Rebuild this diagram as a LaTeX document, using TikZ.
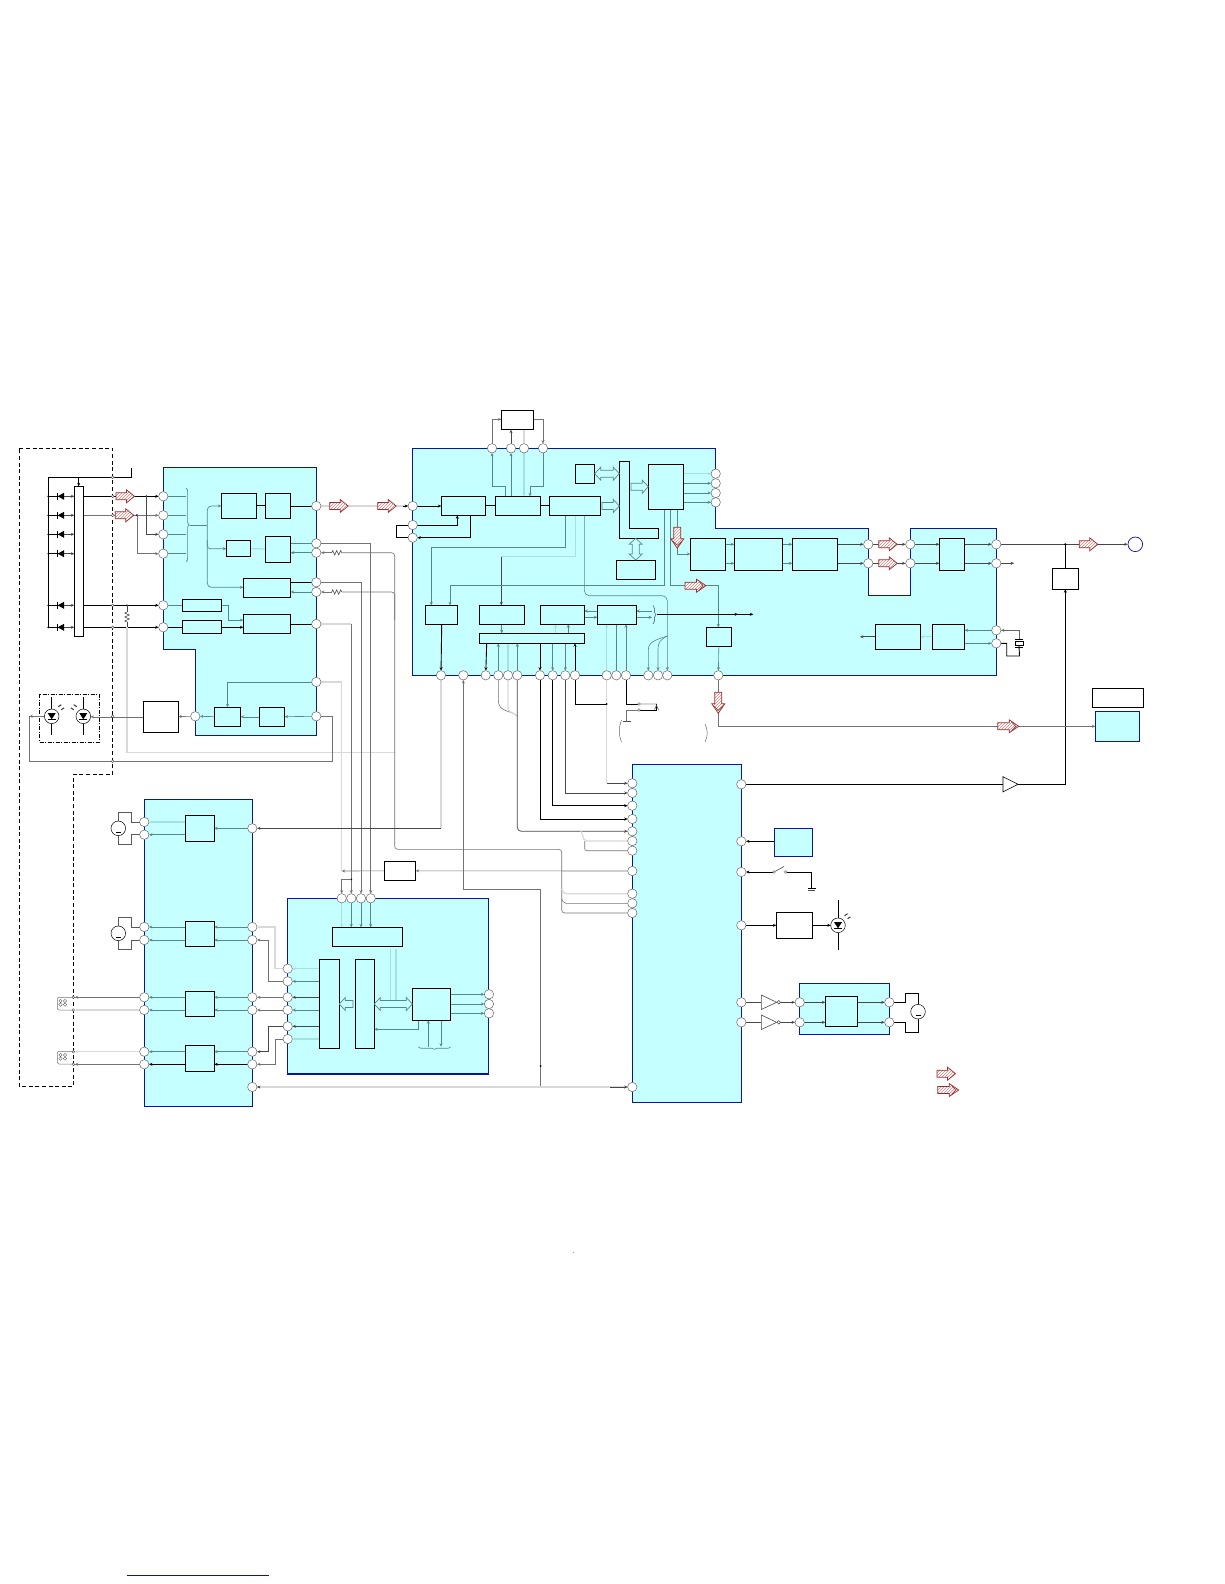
\documentclass[tikz,border=0pt]{standalone}
\usetikzlibrary{arrows.meta,patterns,decorations.pathreplacing,calc}
\pgfdeclarelayer{blocks}\pgfdeclarelayer{wires}\pgfsetlayers{blocks,wires,main}
\definecolor{panel}{HTML}{C6FFFF}
\definecolor{panelblue}{HTML}{0A14A8}
\definecolor{wteal}{HTML}{558889}
\definecolor{wlight}{HTML}{A4E2E2}
\definecolor{redline}{HTML}{9A2C2C}
\tikzset{
  blockp/.style={fill=panel,draw=panelblue,line width=1.2pt},
  boxc/.style={draw=black,fill=panel,line width=.8pt,inner sep=0pt,outer sep=0pt},
  boxw/.style={draw=black,fill=white,line width=.8pt,inner sep=0pt,outer sep=0pt},
  boxb/.style={draw=panelblue,fill=panel,line width=1.2pt,inner sep=0pt,outer sep=0pt},
  pinc/.style={circle,draw=black!60,fill=white,line width=.5pt,minimum size=9.4pt,inner sep=0pt,outer sep=0pt},
  term/.style={circle,draw=black!70,fill=white,line width=.4pt,minimum size=2.8pt,inner sep=0pt,outer sep=0pt},
  sym/.style={circle,draw=black,fill=white,line width=.5pt,minimum size=14.6pt,inner sep=0pt,outer sep=0pt},
  wt/.style={draw=black!55,line width=.6pt},
  wk/.style={draw=black!72,line width=.7pt},
  wb/.style={draw=black,line width=.9pt},
  wl/.style={draw=black!15,line width=1.3pt},
  wa/.style={draw=wteal,line width=.6pt},
  wc/.style={draw=wlight,line width=1.2pt},
  dash1/.style={draw=black,line width=.9pt,dash pattern=on 4pt off 2.6pt},
  dash2/.style={draw=black,line width=.7pt,dash pattern=on 4pt off 1.5pt on 1pt off 1.5pt},
  hol/.style={fill=panel,draw=wteal,line width=.7pt},
  >={Stealth[length=3.4pt,width=3pt]}
}
\newcommand\bx[6][boxc]{\pgfmathsetmacro\bxww{#5-#3}\pgfmathsetmacro\bxhh{#6-#4}\pgfmathsetmacro\bxcx{(#5+#3)/2}\pgfmathsetmacro\bxcy{(#6+#4)/2}\node[#1,minimum width=\bxww pt,minimum height=\bxhh pt] (#2) at (\bxcx,\bxcy) {};}
\newcommand\jdot[2]{\fill[black] (#1,#2) circle (1pt);}
\newcommand\diodeh[1]{\fill[black] (64,#1-3.5) -- (64,#1+3.5) -- (57.7,#1) -- cycle; \draw[black,line width=.9pt] (57.5,#1-3.5) -- (57.5,#1+3.5);}
\newcommand\resh[2]{\draw[black!70,line width=.6pt] (#1-5,#2) -- (#1-4,#2-2.2) -- (#1-2,#2+2.2) -- (#1,#2-2.2) -- (#1+2,#2+2.2) -- (#1+4,#2-2.2) -- (#1+5,#2);}
\newcommand\redA[3]{\begin{scope}[shift={(#1,#2)},rotate=#3]
 \path[fill=white] (-9,-3.5)--(1.5,-3.5)--(1.5,-6.5)--(9.5,0)--(1.5,6.5)--(1.5,3.5)--(-9,3.5)--cycle;
 \path[pattern=north east lines,pattern color=redline!55] (-9,-3.5)--(1.5,-3.5)--(1.5,-6.5)--(9.5,0)--(1.5,6.5)--(1.5,3.5)--(-9,3.5)--cycle;
 \draw[redline,line width=.7pt] (-9,-3.5)--(1.5,-3.5)--(1.5,-6.5)--(9.5,0)--(1.5,6.5)--(1.5,3.5)--(-9,3.5)--cycle;
 \end{scope}}
\newcommand\redB[3]{\begin{scope}[shift={(#1,#2)},rotate=#3]
 \path[fill=white] (-10,-3.5)--(1.5,-3.5)--(1.5,-6.5)--(11,0)--(1.5,6.5)--(1.5,3.5)--(-10,3.5)--cycle;
 \path[pattern=north east lines,pattern color=redline!55] (-10,-3.5)--(1.5,-3.5)--(1.5,-6.5)--(11,0)--(1.5,6.5)--(1.5,3.5)--(-10,3.5)--cycle;
 \draw[redline,line width=.7pt] (-10,-3.5)--(1.5,-3.5)--(1.5,-6.5)--(11,0)--(1.5,6.5)--(1.5,3.5)--(-10,3.5)--cycle;
 \draw[redline,line width=.6pt] (4,-4.4)--(8,0)--(4,4.4);
 \end{scope}}
\newcommand\holA[4]{\begin{scope}[shift={(#1,#2)},rotate=#3]
 \draw[hol] (0,-3.5)--(#4-6,-3.5)--(#4-6,-6.5)--(#4,0)--(#4-6,6.5)--(#4-6,3.5)--(0,3.5)--cycle;\end{scope}}
\newcommand\holB[4]{\begin{scope}[shift={(#1,#2)},rotate=#3]
 \draw[hol] (6,-3.5)--(#4-6,-3.5)--(#4-6,-6.5)--(#4,0)--(#4-6,6.5)--(#4-6,3.5)--(6,3.5)--(6,6.5)--(0,0)--(6,-6.5)--cycle;\end{scope}}
\newcommand\motorbar[2]{\draw[black,line width=.8pt] (#1-2.5,#2+4) -- (#1+2.5,#2+4);}
\newcommand\ledbody[4]{\fill[black] (#1-4,#2-3.2)--(#1+4,#2-3.2)--(#1,#2+3)--cycle;
 \draw[black,line width=.8pt] (#1-4,#2+3.2)--(#1+4,#2+3.2);
 \draw[black,line width=.8pt] (#1,#2-#3)--(#1,#2-7.3) (#1,#2+7.3)--(#1,#2+#3);
 \draw[black!80,line width=1pt] (#1+#4*6.6,#2-9.6)--(#1+#4*9.6,#2-11.6) (#1+#4*9.6,#2-6.6)--(#1+#4*12.4,#2-8.4);}
\newcommand\coilsym[1]{\draw[black!55,line width=.5pt,rounded corners=2] (73.3,#1-6.7)--(57.3,#1-6.7)--(57.3,#1+6)--(73.3,#1+6);
 \draw[black!65,line width=.35pt] (60.5,#1-3) circle (1.7pt) (60.5,#1+.6) circle (1.7pt) (65,#1-3) circle (1.7pt) (65,#1+.6) circle (1.7pt);}
\begin{document}
\begin{tikzpicture}[x=1pt,y=-1pt]
\useasboundingbox (0,0) rectangle (1224,1584);
% ---- blocks
\begin{pgfonlayer}{blocks}
\draw[blockp] (163.3,467.3)--(316.3,467.3)--(316.3,735.3)--(195.3,735.3)--(195.3,649.3)--(163.3,649.3)--cycle;
\draw[blockp] (412.7,448.3)--(715.7,448.3)--(715.7,528.3)--(868.3,528.3)--(868.3,595.3)--(910.3,595.3)--(910.3,528.3)--(996.3,528.3)--(996.3,675.3)--(412.7,675.3)--cycle;
\draw[blockp] (144.3,799.3) rectangle (252.3,1106.3);
\draw[blockp] (287.7,898.3) rectangle (488.7,1074);
\draw[blockp] (632.3,764.3) rectangle (741.3,1102.3);
\draw[blockp] (799.5,983.3) rectangle (889.3,1034.3);
\end{pgfonlayer}
% ---- boxes, block A
\bx{ab}{221.3}{493.3}{256.7}{518.3}\bx{ac}{265.3}{493.3}{290.7}{518.3}
\bx{ad}{226.3}{540.3}{250.7}{556.3}\bx{ae}{265.3}{536.3}{290.7}{562.3}
\bx{af}{243.3}{578.3}{290.7}{597.7}\bx{ag}{243.3}{614.3}{290.7}{633.3}
\bx{ah}{182.3}{599.3}{221.7}{611.3}\bx{ai}{182.3}{620.3}{221.7}{633.3}
\bx{aj}{214.3}{707.3}{240.7}{726.3}\bx{ak}{259.3}{707.3}{284.7}{726.3}
\bx[boxw]{ax}{143.3}{701.3}{178.3}{732.3}
\bx[boxw]{bar}{74.3}{486.3}{83.3}{636.3}
% block C
\bx[boxw]{tb}{501.3}{410.3}{533.3}{429.7}
\bx{ca}{441.3}{496.3}{485.3}{515.3}\bx{cb}{495.3}{496.3}{540.3}{515.3}\bx{cc}{549.3}{496.3}{600.7}{515.3}
\bx{cd}{575.3}{464.3}{594.7}{483.3}\bx{cp}{648.3}{464.3}{683.7}{509.3}\bx{cq}{616.3}{560.3}{655.7}{579.3}
\bx{ce}{690.3}{538.3}{725.7}{570.7}\bx{cf}{734.3}{538.3}{782.7}{570.3}\bx{cg}{792.3}{538.3}{837.7}{570.3}
\bx{ch}{939.3}{538.3}{964.7}{570.3}\bx{cr}{706.3}{627.3}{731.7}{646.3}
\bx{cs}{875.3}{624.3}{920.3}{649.3}\bx{ct}{932.3}{624.3}{964.7}{649.3}
\bx{l1}{425.3}{605.3}{457.3}{624.3}\bx{l2}{479.3}{605.3}{524.3}{624.3}\bx{l3}{540.3}{605.3}{584.3}{624.3}\bx{l4}{597.3}{605.3}{636.3}{624.3}
\bx{lbus}{479.3}{633.3}{584.3}{643.3}
\draw[boxc] (619.3,461.3)--(629.7,461.3)--(629.7,528.3)--(658.7,528.3)--(658.7,538.3)--(619.3,538.3)--cycle;
% lower left block
\bx{m1}{185.3}{815.3}{214.3}{841.3}\bx{m2}{185.3}{921.3}{214.3}{946.3}\bx{m3}{185.3}{991.3}{214.3}{1016.3}\bx{m4}{185.3}{1045.7}{214.3}{1071.3}
% D block
\bx{da}{332.3}{927.3}{402.3}{946.3}\bx{db}{319.3}{959.3}{339.3}{1048.3}\bx{dc}{355.3}{959.3}{374.3}{1048.3}\bx{dd}{412.3}{988.3}{450.7}{1020.3}
\bx[boxw]{ext}{384.3}{861.3}{415.7}{880.3}
\bx[boxw]{kbox}{1052.3}{568.3}{1078.3}{589.3}
\bx[boxw]{wbox}{1092.3}{688.3}{1143.3}{707.3}
\bx[boxb]{bbox}{1095.3}{711.3}{1139.3}{741.3}
\bx[boxb]{sbox}{774.3}{828.3}{812.7}{856.3}
\bx[boxw]{lbox}{776.3}{912.3}{812.7}{938.3}
\bx{fbox}{825.3}{996.3}{857.7}{1026.3}
% ---- pins
\foreach \n/\x/\y in {ai1/163.3/496.3,ai2/163.3/515.3,ai3/163.3/534.3,ai4/163.3/553.7,ai5/163.3/605.3,ai6/163.3/627.3,
 ao1/316.3/506,ao2/316.3/543.3,ao3/316.3/552.7,ao4/316.3/582.3,ao5/316.3/592,ao6/316.3/624,ao7/316.3/682,ao8/316.3/716.3,ap/195.3/716.3,
 ct1/492/448.3,ct2/511/448.3,ct3/524/448.3,ct4/543/448.3,
 cl1/412.7/506,cl2/412.7/525,cl3/412.7/537.7,
 cr1/715.7/473.7,cr2/715.7/483.3,cr3/715.7/493,cr4/715.7/502.3,
 cm1/868.3/544.3,cm2/868.3/563.3,cn1/910.3/544.3,cn2/910.3/563.3,cq1/996.3/544.3,cq2/996.3/563.3,cq3/996.3/630.3,cq4/996.3/643.3,
 p1/441/675.3,p2/463.3/675.3,p3/485.7/675.3,p4/498.3/675.3,p5/508/675.3,p6/517.3/675.3,p7/540/675.3,p8/552.7/675.3,p9/565.3/675.3,p10/575/675.3,
 p11/606.7/675.3,p12/616.3/675.3,p13/626/675.3,p14/648.3/675.3,p15/658/675.3,p16/667.3/675.3,p17/718.3/675.3,
 bl1/144.3/822,bl2/144.3/834.7,bl3/144.3/927,bl4/144.3/940,bl5/144.3/997.3,bl6/144.3/1010,bl7/144.3/1051.7,bl8/144.3/1064.3,
 br1/252.3/828.3,br3/252.3/927,br4/252.3/940,br5/252.3/997.3,br6/252.3/1010,br7/252.3/1051.7,br8/252.3/1064.3,br9/252.3/1087,
 dt1/341.7/898.3,dt2/351.3/898.3,dt3/361/898.3,dt4/370.7/898.3,
 dl1/287.7/968.7,dl2/287.7/981.3,dl3/287.7/997.3,dl4/287.7/1010,dl5/287.7/1026.3,dl6/287.7/1039,
 dr1/489/994.3,dr2/489/1004,dr3/489/1013.3,
 e1/632.3/783.3,e2/632.3/793,e3/632.3/805.7,e4/632.3/819,e5/632.3/831.3,e6/632.3/841,e7/632.3/850.7,e8/632.3/871,e9/632.3/893.7,e10/632.3/903.3,e11/632.3/913,e12/632.3/1087,
 er1/741.3/784.3,er2/741.3/841.3,er3/741.3/872,er4/741.3/925.3,er5/741.3/1002.3,er6/741.3/1022.3,
 f1/799.7/1002.3,f2/799.7/1022.3,f3/889.3/1002.3,f4/889.3/1022.3}
 {\node[pinc] (\n) at (\x,\y) {};}
% terminals on the dashed line
\foreach \n/\x/\y in {t1/112.7/477.3,t2/112.7/496.3,t3/112.7/515.3,t4/112.7/605.3,t5/112.7/627.3,t6/112.7/716.3,t7/112.7/761.3,
 t8/73.3/997.3,t9/73.3/1010,t10/73.3/1051.7,t11/73.3/1064.3,sw1/639/704,sw2/639/710,swa/774/872,swb/785.7/872}
 {\node[term] (\n) at (\x,\y) {};}
% symbols
\node[sym] (led1) at (51.7,716.3) {};\node[sym] (led2) at (83.3,716.3) {};
\node[sym] (led3) at (838,925.3) {};
\node[sym] (mot1) at (118.3,828.3) {};\node[sym] (mot2) at (118.3,933.3) {};\node[sym] (mot3) at (918,1011.7) {};
\node[circle,draw=panelblue,fill=white,line width=.7pt,minimum size=14.6pt,inner sep=0pt] (outc) at (1135.3,544.3) {};
\ledbody{51.7}{716.3}{19}{1}\ledbody{83.3}{716.3}{19}{-1}\ledbody{838}{925.3}{25}{1}
\motorbar{118.3}{828.3}\motorbar{118.3}{933.3}\motorbar{918}{1011.7}
\foreach \y in {496.3,515.3,534.3,553.7,605.3,627.3}{\diodeh{\y}}
\coilsym{1004}\coilsym{1058}
% resistors
\node[fill=white,minimum width=10pt,minimum height=6pt,inner sep=0pt] (r1) at (336.7,552.7) {};\resh{336.7}{552.7}
\node[fill=white,minimum width=10pt,minimum height=6pt,inner sep=0pt] (r2) at (336.7,592) {};\resh{336.7}{592}
\node[fill=white,minimum width=6pt,minimum height=10pt,inner sep=0pt] (r3) at (127,617) {};
\draw[black!70,line width=.6pt] (127,612)--(124.8,613)--(129.2,615)--(124.8,617)--(129.2,619)--(124.8,621)--(127,622);
% inverters and buffer
\coordinate (i1a) at (761.3,1002.3);\coordinate (i1b) at (781,1002.3);\coordinate (i2a) at (761.3,1022.3);\coordinate (i2b) at (781,1022.3);
\draw[black!70,fill=white,line width=.6pt] (761.3,995)--(761.3,1009.5)--(776.7,1002.3)--cycle (778.8,1002.3) circle (1.8pt);
\draw[black!70,fill=white,line width=.6pt] (761.3,1015)--(761.3,1029.5)--(776.7,1022.3)--cycle (778.8,1022.3) circle (1.8pt);
\coordinate (bufa) at (1003,784.3);\coordinate (bufb) at (1018,784.3);
\draw[black,fill=white,line width=.6pt] (1003,776.7)--(1003,791.9)--(1018,784.3)--cycle;
% ---- red arrows
\redA{125}{496.3}{0}\redA{124.3}{515.3}{0}\redA{338.7}{506}{0}\redA{386.7}{506}{0}
\redA{887.7}{544.3}{0}\redA{887.7}{563.3}{0}\redA{1088.3}{544.3}{0}
\redB{677.3}{537.3}{-90}\redB{695}{585.7}{0}\redB{718.3}{702.3}{-90}\redB{1007.7}{726.3}{0}
\redA{946}{1073.7}{0}\redB{947.7}{1090}{0}
% ---- hollow arrows
\holB{594.7}{473.7}{0}{24.6}\holA{602}{506}{0}{17.3}\holA{631}{486.7}{0}{17.3}
\holB{635.7}{538.3}{-90}{21.7}\holA{353}{1004}{180}{13.7}\holB{374.3}{1004}{0}{38}
% ---- wires
\begin{pgfonlayer}{wires}
\draw[dash1] (19.3,448.3)--(112.7,448.3)--(112.7,774.3)--(73.3,774.3)--(73.3,1086.7)--(19.3,1086.7)--cycle;
\draw[dash2] (39.7,694.3) rectangle (99.3,742.3);
% left bus
\coordinate (vt) at (131.7,468.3);\coordinate (vb1) at (48.3,477.3);\coordinate (vb2) at (48.3,627.3);
\draw[wb] (vt) |- (vb1) -- (vb2);
\draw[wb,->] (78.7,477.3) -- (bar.north -| 78.7,0);
\foreach \y in {496.3,515.3,534.3,553.7,605.3,627.3}{\jdot{48.3}{\y}\draw[wb] (48.3,\y) -- (60,\y);\draw[wk,->] (60,\y) -- (74.3,\y);}
\draw[wb,->] (bar.east |- ai1) -- (ai1);\draw[wt,->] (bar.east |- ai2) -- (ai2);
\draw[wb,->] (bar.east |- ai5) -- (ai5);\draw[wb,->] (bar.east |- ai6) -- (ai6);
\coordinate (j1) at (146.3,496.3);\coordinate (j2) at (137,515.3);
\fill (j1) circle (1.1pt) (j2) circle (1.1pt);
\draw[wk,->] (j1) |- (ai3);\draw[wt,->] (j2) |- (ai4);
\jdot{127}{605.3}
\draw[wk] (127,605.3) -- (r3);\draw[wk] (r3) -- (127,627.3);
\coordinate (lb1) at (394.7,752.7);
\draw[wl] (127,627.3) |- (lb1);
% LEDs
\draw[wt,->] (led1) -- (29.3,716.3);
\draw[wt] (ao8) -- (332.3,716.3) |- (29.3,761.3) -- (29.3,716.3);
\draw[wt,->] (ax) -- (ax.west -| led2.east);
\draw[wt,->] (ap) -- (ax);\draw[wa,->] (aj) -- (ap);\draw[wa,->] (ak) -- (aj);\draw[wa,->] (ao8) -- (ak);
\draw[wa,line width=.9pt,->] (ao7) -| (aj);
% block A
\foreach \p in {ai1,ai2,ai3,ai4}{\draw[wa] (\p) -- (186,0 |- \p);}
\draw[wa,line width=.7pt,decorate,decoration={brace,amplitude=3.2pt}] (186,488) -- (186,561.7);
\draw[wa,line width=.7pt] (190,525) -- (207.3,525);
\draw[wa,line width=.7pt,rounded corners=4,->] (207.3,525) |- (ab.west |- 0,506);
\draw[wa,line width=.7pt,rounded corners=4,->] (207.3,525) |- (af.west |- 0,587.3);
\draw[wa,line width=.7pt,rounded corners=3,->] (207.3,540) |- (ad.west |- 0,548.7);
\draw[wb] (ab) -- (ac);\draw[wb] (ac.east |- ao1) -- (ao1);
\draw[wc] (ad) -- (ae);
\draw[wa] (ae.east |- ao2) -- (ao2);\draw[wa,->] (ao3) -- (ae.east |- ao3);
\draw[wb] (af.east |- ao4) -- (ao4);\draw[wa,->] (ao5) -- (af.east |- ao5);
\draw[wb] (ag.east |- ao6) -- (ao6);
\draw[wa] (ai5) -- (ah.west |- ai5);\draw[wb] (ai6) -- (ai.west |- ai6);
\draw[wa,->] (ah.east |- ai5) -- (228,605.3) |- (243.3,620);
\draw[wb,->] (ai.east |- ai6) -- (ag.west |- ai6);
% A to C and lower D
\draw[wl] (ao1) -- (cl1);
\draw[wb,->] (ao1 -| 403,0) -- (cl1);
\draw[wt,->] (r1) -- (ao3);\draw[wt,->] (r2) -- (ao5);
\draw[wt,rounded corners=3] (r1) -- (394.7,552.7) -- (394.7,849.3) -- (561.7,849.3) -- (561.7,913) -- (e11);
\draw[wt,rounded corners=3] (r2) -- (394.7,592) -- (394.7,620);
\draw[wl,rounded corners=2] (561.7,889) -- (564,893.7) -- (e9);
\draw[wt,rounded corners=2] (561.7,899) -- (564,903.3) -- (e10);
\draw[wt,->] (ao2) -| (dt4);
\draw[wt,->] (ao4) -| (dt3);
\draw[wl] (ao6) -- (351.3,624);\draw[wt,->] (351.3,624) -- (dt2);
\draw[wl] (ao7) -- (341.7,682) -- (341.7,871);
\draw[wt,->] (ext) -- (341.7,871);
\jdot{351.3}{879.3}
\draw[wt,->] (351.3,879.3) -- (341.7,879.3) -- (dt1);
\draw[wt,->] (e8) -- (ext);
% block C
\draw[wb,->] (cl1) -- (ca.west |- cl1);\draw[wb] (ca) -- (cb);\draw[wb] (cb) -- (cc);
\draw[wb,->] (cl2) -| (457.3,515.3);
\draw[wb,->] (470.7,515.3) |- (cl3);
\draw[wb] (cl2) -- (396.7,525) -- (396.7,537.7) -- (cl3);
\draw[wa,->] (505,496.3) -- (505,486.7) -| (ct1);
\draw[wa,->] (511,496.3) -- (ct2);\draw[wc,->] (ct3) -- (524,496.3);
\draw[wa,->] (ct4) |- (530,486.7) -- (530,496.3);
\draw[wt,->] (ct1) |- (tb.west |- 0,419.3);\draw[wk,->] (ct2) -- (511,429.7);\draw[wl] (ct3) -- (524,429.7);
\draw[wt,->] (tb.east |- 0,419.3) -| (ct4);
\draw[wa,->] (565.7,515.3) |- (431.3,547.3) -- (431.3,605.3);
\draw[wc] (575.3,515.3) |- (501.3,556.7);
\draw[wk,->] (501.3,556.7) -- (501.3,605.3);
\draw[wa,rounded corners=5,->] (584.3,515.3) |- (667.3,595.7) -- (p16);
\draw[wa,->] (664.3,509.3) |- (450,585.7) -- (450,605.3);
\draw[wa,->] (670.3,509.3) |- (718.3,585.7) -- (718.3,627.3);
\draw[wa,->] (677.3,509.3) |- (690.3,554);
\draw[wc,->] (cp.east |- cr1) -- (cr1);
\foreach \p in {cr2,cr3,cr4}{\draw[wa,->] (cp.east |- \p) -- (\p);}
\foreach \y in {544.3,563.3}{\draw[wa,->] (725.7,\y) -- (734.3,\y);\draw[wa,->] (782.7,\y) -- (792.3,\y);}
\draw[wk,->] (cg.east |- cm1) -- (cm1);\draw[wk,->] (cg.east |- cm2) -- (cm2);
\draw[wk,->] (cm1) -- (cn1);\draw[wk,->] (cm2) -- (cn2);
\draw[wk,->] (cn1) -- (ch.west |- cn1);\draw[wk,->] (cn2) -- (ch.west |- cn2);
\draw[wk,->] (ch.east |- cq1) -- (cq1);\draw[wk,->] (ch.east |- cq2) -- (cq2);
\coordinate (cq2e) at (1014,563.3);
\draw[wk,->] (cq2) -- (cq2e);
\draw[wk,->] (cq1) -- (outc);
\coordinate (jk) at (1065.3,544.3);\fill (jk) circle (1.2pt);
\draw[wb] (jk) -- (kbox);
\draw[wb,->] (bufb) -- (1065.3,784.3) -- (kbox);
\draw[wb] (er1) -- (bufa);
\draw[wa,->] (cr) -- (p17);
\draw[wt,->] (p17) |- (bbox);
% crystal
\draw[wa,->] (cq3) -- (ct.east |- cq3);\draw[wa,->] (ct.east |- cq4) -- (cq4);
\draw[wc,->] (ct) -- (cs);
\coordinate (csl) at (860,636.8);\draw[wk,->] (cs) -- (csl);
\coordinate (xt) at (1019,630.3);\coordinate (xb) at (1019,646);
\draw[black!60,line width=.6pt,->] (xt) -- (cq3);
\draw[black!60,line width=.6pt] (xt) -- (1019,639);
\draw[wb] (cq4) -- (1006.7,643.3) -- (1006.7,656) -- (1019.5,656) -- (xb);
\draw[black,line width=.8pt,fill=white] (1015,641) rectangle (1023,645.7);
\draw[black,line width=.6pt] (1015,639.6) -- (1023,639.6) (1015,646.8) -- (1023,646.8);
% lower C boxes
\draw[wb,->] (441.7,624.3) -- (p1);
\draw[wa,->] (501.7,624.3) -- (501.7,633.3);
\draw[wc,->] (555.7,633.3) -- (555.7,624.3);
\draw[wa,->] (568.3,633.3) -- (568.3,624.3);
\draw[wa,->] (597.3,611) -- (584.3,611);\draw[wa,->] (584.3,617.3) -- (597.3,617.3);
\draw[wa,->] (652,611) -- (636.3,611);\draw[wa,->] (636.3,617.3) -- (652,617.3);
\draw[wa,line width=.7pt,decorate,decoration={brace,amplitude=2.8pt}] (653,605.3) -- (653,624);
\coordinate (cout) at (753.3,614.3);
\draw[wb,->] (656.7,614.3) -- (cout);\draw[wb,->] (656.7,614.3) -- (738,614.3);
\draw[wb,->] (486.7,643.3) -- (p3);
\draw[wa,->] (p4) -- (p4 |- lbus.south);\draw[wc,->] (p5) -- (p5 |- lbus.south);\draw[wa,->] (p6) -- (p6 |- lbus.south);
\draw[wb,->] (p7 |- lbus.south) -- (p7);\draw[wa,->] (p8 |- lbus.south) -- (p8);\draw[wa,->] (p9 |- lbus.south) -- (p9);
\draw[wb,->] (p10) -- (p10 |- lbus.south);
\draw[wc,->] (p11) -- (p11 |- l4.south);\draw[wa] (p12) -- (p12 |- l4.south);\draw[wa,->] (p13) -- (p13 |- l4.south);
\draw[wa,->] (667.3,636) .. controls (655,640) and (648.3,642) .. (648.3,650) -- (p14);
\draw[wa,->] (667.3,636) .. controls (660,640) and (658,642) .. (658,650) -- (p15);
% below C
\draw[wl] (p1) -- (441,828.3);\draw[wk,->] (441,828.3) -- (br1);
\draw[wt,->] (540.7,1087) -- (540.7,889.3) -- (463.3,889.3) -- (p2);
\jdot{540.7}{1066}\jdot{540.7}{1087}
\draw[wt] (p4) -- (498.3,700) .. controls (498.3,712) and (510,710) .. (517.3,716);
\draw[wl] (p5) -- (508,708) .. controls (508,712) and (512,712) .. (517.3,716);
\draw[wk,rounded corners=4,->] (p6) -- (517.3,831.3) -- (e5);
\draw[wb,->] (p7) |- (e4);\draw[wb,->] (p8) |- (e3);\draw[wk,->] (p9) |- (e2);
\draw[wl] (p11) -- (606.7,783.3);\draw[wk,->] (606.7,783.3) -- (e1);
\draw[wl,rounded corners=2] (581,831.3) -- (584.7,841) -- (e6);
\draw[wt,rounded corners=2] (584.7,841) -- (584.7,850.7) -- (e7);
\draw[wb] (p10) |- (606.7,704);\jdot{606.7}{704}
\draw[wb] (p13) |- (sw1);
\draw[wl] (sw1) -- (656.5,704);
\draw[wb] (sw2) -- (656.5,710) -- (656.5,704);
\draw[wt] (sw2) -- (626.7,710) -- (626.7,720.6);
\draw[black!70,line width=.5pt] (623,720.8) -- (631,720.8);
\draw[black!60,line width=.5pt] (621.5,720) .. controls (618.5,727) and (618.5,735) .. (621.5,742);
\draw[black!60,line width=.5pt] (705,724) .. controls (708,730) and (708,736) .. (705,742);
% lower left
\draw[wc,->] (m1.west |- bl1) -- (bl1);\draw[wa,->] (m1.west |- bl2) -- (bl2);
\draw[wa,->] (br1) -- (m1.east |- br1);
\draw[wa,->] (m2.west |- bl3) -- (bl3);\draw[wa,->] (m2.west |- bl4) -- (bl4);
\draw[wa,->] (m3.west |- bl5) -- (bl5);\draw[wa,->] (m3.west |- bl6) -- (bl6);
\draw[wa,->] (m4.west |- bl7) -- (bl7);\draw[wb,->] (m4.west |- bl8) -- (bl8);
\foreach \a/\m in {br3/m2,br4/m2,br5/m3,br6/m3,br7/m4}{\draw[wa,->] (\a) -- (\m.east |- \a);}
\draw[wb,->] (br8) -- (m4.east |- br8);
\draw[wt,->] (bl5) -- (t8);\draw[wl,->] (bl6) -- (t9);\draw[wl,->] (bl7) -- (t10);\draw[wt,->] (bl8) -- (t11);
\draw[black!65,line width=.6pt] (bl1) -- (131.3,822) -- (131.3,812.3) -- (118.3,812.3) -- (mot1);
\draw[black!65,line width=.6pt] (bl2) -- (131.3,834.7) -- (131.3,844.3) -- (118.3,844.3) -- (mot1);
\draw[black!65,line width=.6pt] (bl3) -- (131.3,927) -- (131.3,917.3) -- (118.3,917.3) -- (mot2);
\draw[black!65,line width=.6pt] (bl4) -- (131.3,940) -- (131.3,949.3) -- (118.3,949.3) -- (mot2);
% lower left to D
\draw[wl,->] (dl1) -- (275,968.7) -- (275,927) -- (br3);
\draw[wt,->] (dl2) -- (268.7,981.3) -- (268.7,940) -- (br4);
\draw[wt,->] (dl3) -- (br5);\draw[wt,->] (dl4) -- (br6);
\draw[wk,->] (dl5) -- (268.7,1026.3) -- (268.7,1051.7) -- (br7);
\draw[wt,->] (dl6) -- (275,1039) -- (275,1064.3) -- (br8);
\draw[wl] (e12) -- (br9);
\draw[wk,->] (260,1087) -- (br9);
\draw[wk,->] (610,1087) -- (e12);
% D block
\draw[wc,->] (dt1) -- (dt1 |- da.north);
\foreach \p in {dt2,dt3,dt4}{\draw[wa,->] (\p) -- (\p |- da.north);}
\draw[wc,->] (db.west |- dl1) -- (dl1);\draw[wa,->] (db.west |- dl2) -- (dl2);
\draw[wk,->] (db.west |- dl3) -- (dl3);\draw[wa,->] (db.west |- dl4) -- (dl4);
\draw[wk,->] (db.west |- dl5) -- (dl5);\draw[wc,->] (db.west |- dl6) -- (dl6);
\draw[wlight,line width=.8pt] (390.7,948.5) -- (390.7,1000);\draw[wc] (396,948.5) -- (396,1000);
\foreach \p in {dr1,dr2,dr3}{\draw[wa,->] (dd.east |- \p) -- (\p);}
\draw[wa,->] (418.7,1020.3) |- (374.3,1029.3);
\draw[wa,->] (428.3,1046.7) -- (428.3,1020.3);\draw[wa,->] (441,1020.3) -- (441,1046.7);
\draw[wa,line width=.6pt,decorate,decoration={brace,amplitude=2.4pt,mirror}] (418.3,1047) -- (450.7,1047);
% right of E
\draw[wb,->] (sbox.west |- er2) -- (er2);
\draw[wb,->] (swa) -- (er3);
\coordinate (gnd) at (811.7,888.3);
\draw[wb] (swb) -| (gnd);
\draw[wb,->] (er4) -- (lbox.west |- er4);\draw[wb,->] (lbox.east |- led3) -- (led3);
\draw[wk] (er5) -- (i1a);\draw[wk] (er6) -- (i2a);
\draw[wk,->] (i1b) -- (f1);\draw[wk,->] (i2b) -- (f2);
\draw[wk,->] (f1) -- (fbox.west |- f1);\draw[wk,->] (f2) -- (fbox.west |- f2);
\draw[wk,->] (fbox.east |- f3) -- (f3);\draw[wk,->] (fbox.east |- f4) -- (f4);
\draw[wb] (f3) -- (905.3,1002.3) -- (905.3,993.3) -- (918,993.3) -- (mot3);
\draw[wb] (f4) -- (905.3,1022.3) -- (905.3,1032.3) -- (918,1032.3) -- (mot3);
\end{pgfonlayer}
% switch and grounds
\draw[black!70,line width=.6pt] (swa) -- (784,866.5);
\draw[black,line width=.6pt] (807.7,888.3) -- (815.7,888.3);
\draw[black!70,line width=.4pt] (808,890) -- (815,890);
\draw[black!70,line width=.5pt] (654.5,710) -- (656.5,705) -- (658.5,710);
% loose marks
\draw[panelblue,line width=1pt] (126.7,1575.3) -- (269,1575.3);
\fill[black!60] (573.3,1252.3) circle (.5pt);
\end{tikzpicture}
\end{document}
